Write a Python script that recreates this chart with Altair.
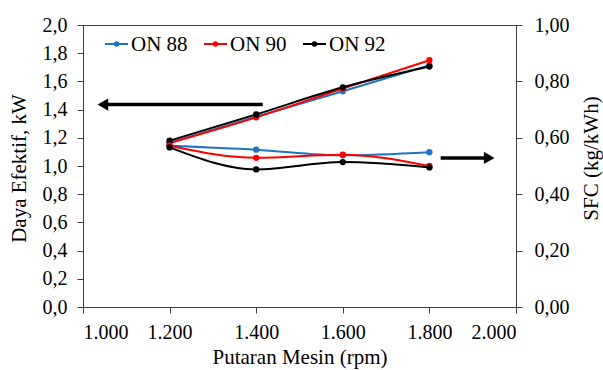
import altair as alt
import pandas as pd

# ---- data ----
rpm = [1200, 1400, 1600, 1800]
series = ["ON 88", "ON 90", "ON 92"]
colors = ["#1f74c0", "#ff0000", "#000000"]

power_on88 = [1.165, 1.35, 1.53, 1.715]
power_on90 = [1.163, 1.345, 1.55, 1.75]
power_on92 = [1.18, 1.366, 1.558, 1.705]

sfc_on88 = [0.572, 0.558, 0.538, 0.549]
sfc_on90 = [0.572, 0.529, 0.540, 0.500]
sfc_on92 = [0.566, 0.488, 0.514, 0.495]

# annotation arrows (data coordinates: rpm, power axis)
arrow_x_start = [1415, 1826]
arrow_x_end = [1050, 1935]
arrow_head_x = [1046, 1938]
arrow_y = [1.436, 1.057]
arrow_shape = ["triangle-left", "triangle-right"]

power_df = pd.DataFrame(
    [
        {"rpm": r, "series": s, "value": v}
        for s, vals in zip(series, [power_on88, power_on90, power_on92])
        for r, v in zip(rpm, vals)
    ]
)
sfc_df = pd.DataFrame(
    [
        {"rpm": r, "series": s, "value": v}
        for s, vals in zip(series, [sfc_on88, sfc_on90, sfc_on92])
        for r, v in zip(rpm, vals)
    ]
)
arrow_df = pd.DataFrame(
    {"x1": arrow_x_start, "x2": arrow_x_end, "hx": arrow_head_x, "y": arrow_y, "shape": arrow_shape}
)
legend_df = pd.DataFrame({"series": series})

FONT = "Liberation Serif"
AX = "#404040"

color = alt.Color(
    "series:N", scale=alt.Scale(domain=series, range=colors), legend=None
)

XS = alt.Scale(domain=[1000, 2000], nice=False)
x_enc = alt.X(
    "rpm:Q",
    scale=XS,
    axis=alt.Axis(
        title="Putaran Mesin (rpm)",
        values=[1000, 1200, 1400, 1600, 1800, 2000],
        labelExpr="replace(format(datum.value, ',.0f'), ',', '.')",
        labelPadding=9,
        titleY=50,
        titleBaseline="middle",
    ),
)

left_axis = alt.Axis(
    title="Daya Efektif, kW",
    values=[0, 0.2, 0.4, 0.6, 0.8, 1.0, 1.2, 1.4, 1.6, 1.8, 2.0],
    labelExpr="replace(format(datum.value, '.1f'), '.', ',')",
    labelPadding=10,
    titleX=-64,
    titleY=143,
    titleAngle=270,
    titleAlign="center",
    titleBaseline="middle",
)
right_axis = alt.Axis(
    title="SFC (kg/kWh)",
    orient="right",
    values=[0, 0.2, 0.4, 0.6, 0.8, 1.0],
    labelExpr="replace(format(datum.value, '.2f'), '.', ',')",
    labelPadding=12,
    titleX=75,
    titleY=133,
    titleAngle=270,
    titleAlign="center",
    titleBaseline="middle",
)

YP = alt.Scale(domain=[0, 2], nice=False)
YS = alt.Scale(domain=[0, 1], nice=False)
y_pow = alt.Y("value:Q", scale=YP, axis=left_axis)
y_sfc = alt.Y("value:Q", scale=YS, axis=right_axis)

pow_line = alt.Chart(power_df).mark_line(strokeWidth=2, interpolate="monotone").encode(
    x=x_enc, y=y_pow, color=color
)
pow_pts = alt.Chart(power_df).mark_circle(size=40, opacity=1).encode(
    x=x_enc, y=y_pow, color=color
)
arrow_line = alt.Chart(arrow_df).mark_rule(strokeWidth=3.5, color="black").encode(
    x=alt.X("x1:Q", scale=XS),
    x2="x2:Q",
    y=alt.Y("y:Q", scale=YP, axis=left_axis),
)
arrow_head = alt.Chart(arrow_df).mark_point(
    filled=True, size=150, color="black", opacity=1
).encode(
    x=alt.X("hx:Q", scale=XS),
    y=alt.Y("y:Q", scale=YP, axis=left_axis),
    shape=alt.Shape("shape:N", scale=None, legend=None),
)

# custom legend (line + dot + label), entries spaced across the top of the plot
leg = (
    alt.Chart(legend_df)
    .transform_window(idx="row_number()")
    .transform_calculate(
        lx="22 + (datum.idx - 1) * 99",
        lx2="22 + (datum.idx - 1) * 99 + 23",
        dx="22 + (datum.idx - 1) * 99 + 11.5",
        tx="22 + (datum.idx - 1) * 99 + 26",
    )
)
leg_rule = leg.mark_rule(strokeWidth=2).encode(
    x=alt.X("lx:Q", scale=None), x2="lx2:Q", y=alt.value(19), color=color
)
leg_dot = leg.mark_circle(size=30, opacity=1).encode(
    x=alt.X("dx:Q", scale=None), y=alt.value(19), color=color
)
leg_text = leg.mark_text(
    align="left", baseline="middle", fontSize=21, font=FONT, color="black", dy=1
).encode(x=alt.X("tx:Q", scale=None), y=alt.value(19), text="series:N")

sfc_line = alt.Chart(sfc_df).mark_line(strokeWidth=2, interpolate="monotone").encode(
    x=x_enc, y=y_sfc, color=color
)
sfc_pts = alt.Chart(sfc_df).mark_circle(size=40, opacity=1).encode(
    x=x_enc, y=y_sfc, color=color
)

left_layer = alt.layer(arrow_line, arrow_head, pow_line, pow_pts, leg_rule, leg_dot, leg_text)
right_layer = alt.layer(sfc_line, sfc_pts)

chart = (
    alt.layer(left_layer, right_layer)
    .resolve_scale(y="independent")
    .properties(
        width=433,
        height=282,
        padding={"left": 83, "top": 25, "right": 87, "bottom": 63},
        autosize=alt.AutoSizeParams(type="none"),
        background="white",
    )
    .configure(font=FONT)
    .configure_view(stroke=AX, strokeWidth=1)
    .configure_axis(
        grid=False,
        domainColor=AX,
        domainWidth=1,
        tickColor=AX,
        tickSize=6,
        labelFont=FONT,
        labelFontSize=20,
        labelColor="black",
        titleFont=FONT,
        titleFontSize=21,
        titleFontWeight="normal",
        titleColor="black",
    )
)

chart.save("out.html", embed_options={"renderer": "svg", "actions": False})
